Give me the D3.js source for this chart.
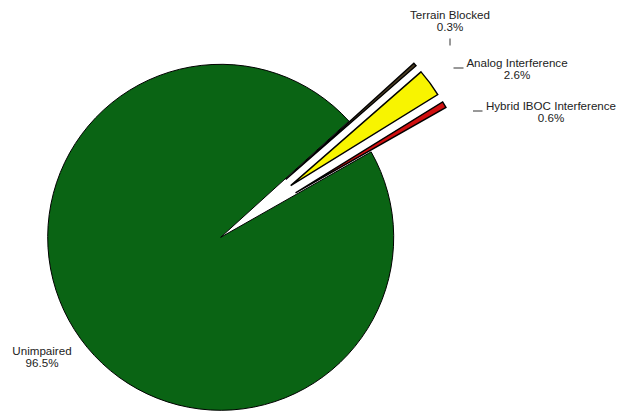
<!DOCTYPE html>
<html>
<head>
<meta charset="utf-8">
<script src="https://cdn.jsdelivr.net/npm/d3@7"></script>
<style>
  html, body { margin: 0; padding: 0; background: #fff; }
  svg { display: block; }
  text { font-family: "Liberation Sans", Arial, Helvetica, sans-serif; font-size: 11.6px; fill: #222; }
</style>
</head>
<body>
<svg id="chart" width="619" height="412"></svg>
<script>
// ---- data ----
const categories = ["Unimpaired", "Terrain Blocked", "Analog Interference", "Hybrid IBOC Interference"];
const values = [96.5, 0.3, 2.6, 0.6];
const valueLabels = ["96.5%", "0.3%", "2.6%", "0.6%"];
const colors = ["#0a6414", "#4a3c22", "#f8f400", "#d01010"];
const exploded = [false, true, true, true];

// ---- layout ----
const W = 619, H = 412;
const cx = 220.7, cy = 237.3, R = 173;
const explodeDist = 87;
const startDeg = 60.4;

// label layout: [x, baseline y of first line, leader]
const labelLayout = [
  { x: 42, y: 355, anchor: "middle", leader: null },
  { x: 450, y: 18.5, anchor: "middle", leader: [[450, 38.5], [450, 45.5]] },
  { x: 517, y: 67, anchor: "middle", leader: [[453.5, 68], [463.5, 68]] },
  { x: 551, y: 110, anchor: "middle", leader: [[473, 111], [482.5, 111]] }
];

const svg = d3.select("#chart");
const data = categories.map((c, i) => ({ name: c, value: values[i], i }));

const start = startDeg * Math.PI / 180;
const pie = d3.pie().value(d => d.value).sort(null)
  .startAngle(start).endAngle(start + 2 * Math.PI);
const arc = d3.arc().innerRadius(0).outerRadius(R);

const g = svg.append("g").attr("transform", `translate(${cx},${cy})`);
g.selectAll("path")
  .data(pie(data))
  .join("path")
  .attr("d", arc)
  .attr("fill", d => colors[d.data.i])
  .attr("stroke", "#000")
  .attr("stroke-width", d => exploded[d.data.i] ? 1.4 : 1)
  .attr("stroke-linejoin", "miter")
  .attr("transform", d => {
    if (!exploded[d.data.i]) return null;
    const a = (d.startAngle + d.endAngle) / 2;
    return `translate(${explodeDist * Math.sin(a)},${-explodeDist * Math.cos(a)})`;
  });

// labels
const lab = svg.append("g");
data.forEach((d, i) => {
  const L = labelLayout[i];
  const t = lab.append("text").attr("text-anchor", L.anchor);
  t.append("tspan").attr("x", L.x).attr("y", L.y).text(d.name);
  t.append("tspan").attr("x", L.x).attr("y", L.y + 12.3).text(valueLabels[i]);
  if (L.leader) {
    lab.append("line")
      .attr("x1", L.leader[0][0]).attr("y1", L.leader[0][1])
      .attr("x2", L.leader[1][0]).attr("y2", L.leader[1][1])
      .attr("stroke", "#333").attr("stroke-width", 1);
  }
});
</script>
</body>
</html>
